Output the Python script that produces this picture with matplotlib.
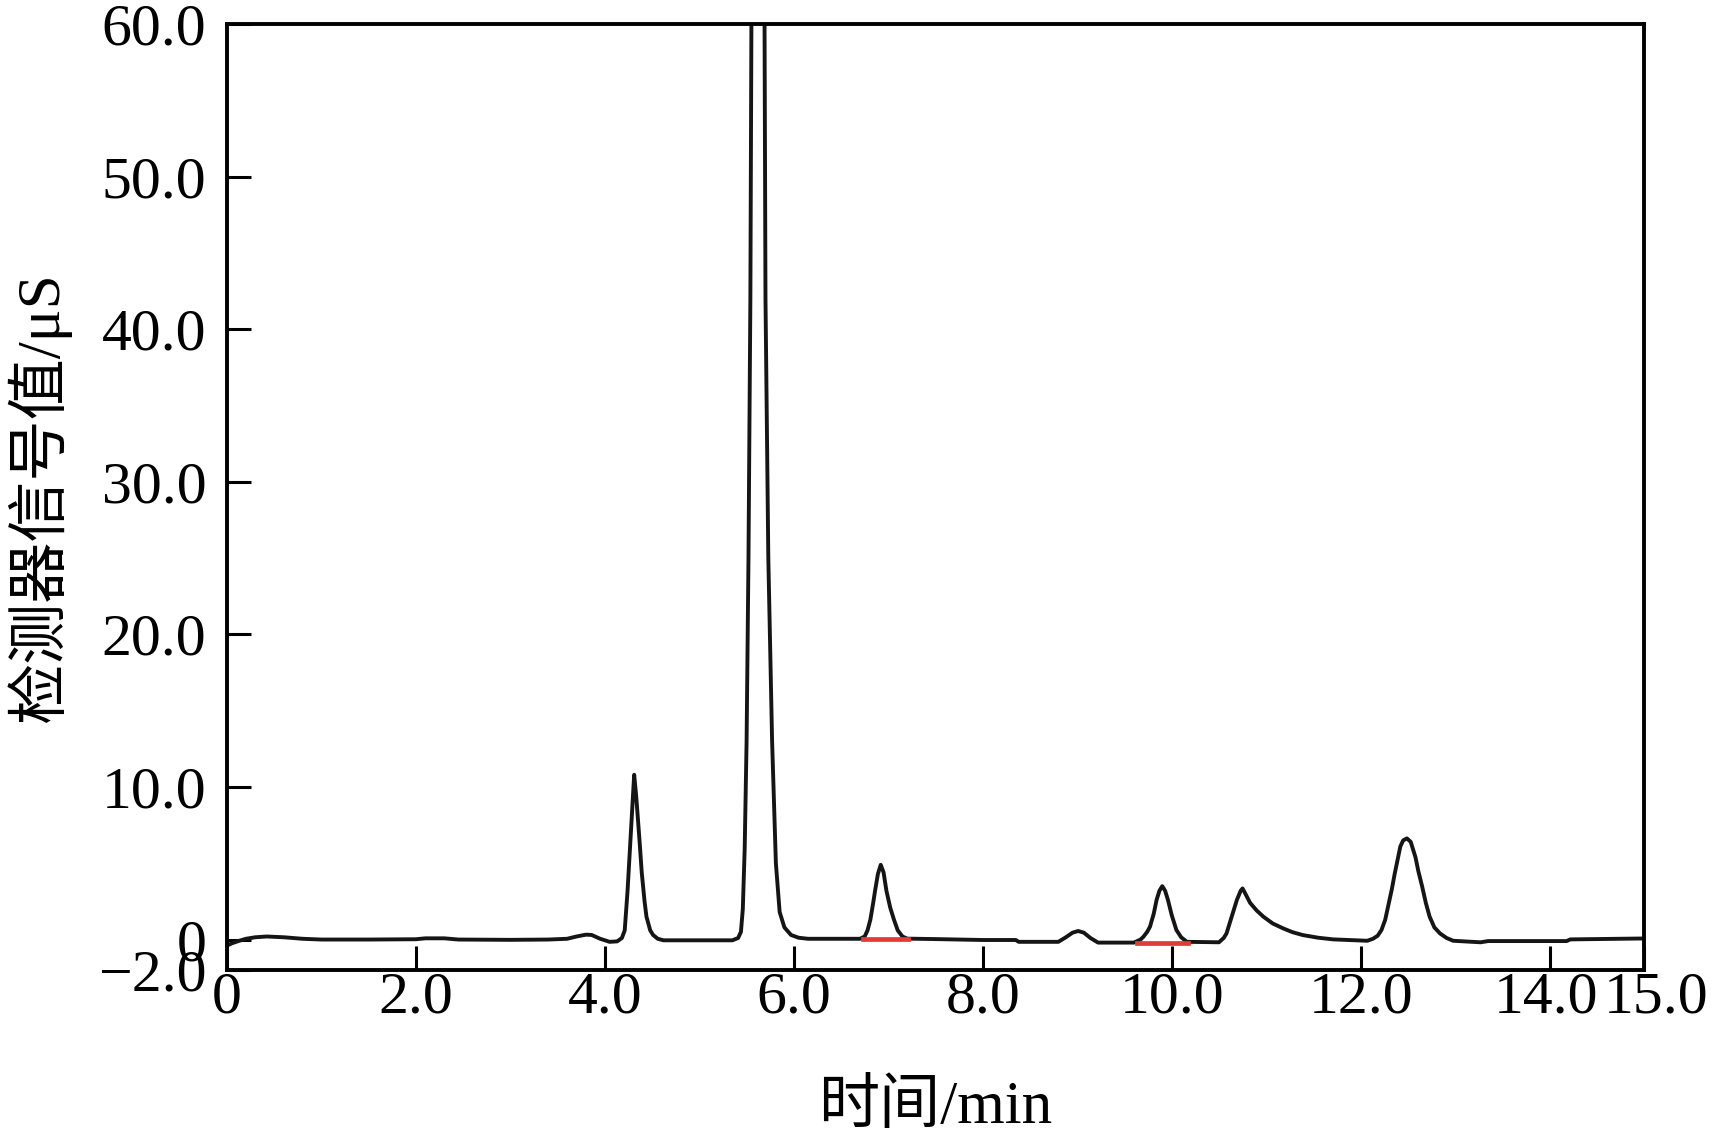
import matplotlib
matplotlib.use('Agg')
import matplotlib.pyplot as plt
from matplotlib.transforms import ScaledTranslation

plt.rcParams['font.family'] = ['Liberation Serif', 'Noto Sans CJK SC']
plt.rcParams['axes.unicode_minus'] = True

# 色谱图曲线（从图中读取的点）
time_min = [0.00, 0.05, 0.12, 0.20, 0.30, 0.42, 0.60, 0.80, 1.00, 1.50,
            2.00, 2.10, 2.30, 2.45, 3.00, 3.40, 3.60, 3.70, 3.80, 3.86,
            3.95, 4.05, 4.13, 4.18, 4.21, 4.24, 4.27, 4.29, 4.31, 4.33,
            4.34, 4.37, 4.39, 4.42, 4.44, 4.48, 4.51, 4.56, 4.62, 5.00,
            5.35, 5.41, 5.44, 5.46, 5.48, 5.50, 5.52, 5.54, 5.55, 5.58,
            5.62, 5.66, 5.69, 5.70, 5.73, 5.77, 5.81, 5.85, 5.90, 5.97,
            6.05, 6.15, 6.70, 6.75, 6.78, 6.81, 6.84, 6.86, 6.89, 6.92,
            6.95, 6.98, 7.02, 7.06, 7.10, 7.15, 7.20, 7.50, 8.00, 8.35,
            8.38, 8.80, 8.88, 8.95, 9.01, 9.07, 9.14, 9.22, 9.60, 9.67,
            9.70, 9.74, 9.77, 9.81, 9.84, 9.87, 9.90, 9.93, 9.96, 10.00,
            10.05, 10.10, 10.16, 10.50, 10.55, 10.58, 10.63, 10.69, 10.73, 10.75,
            10.78, 10.83, 10.90, 10.97, 11.07, 11.18, 11.28, 11.39, 11.55, 11.71,
            12.07, 12.13, 12.18, 12.22, 12.26, 12.29, 12.33, 12.36, 12.42, 12.45,
            12.49, 12.53, 12.58, 12.61, 12.65, 12.69, 12.73, 12.78, 12.84, 12.91,
            12.98, 13.27, 13.35, 14.18, 14.22, 14.80, 15.00]
signal_us = [-0.40, -0.25, -0.10, 0.05, 0.15, 0.20, 0.15, 0.05, 0.00, 0.00,
             0.02, 0.08, 0.08, 0.00, -0.02, 0.00, 0.05, 0.20, 0.32, 0.30,
             0.05, -0.15, -0.12, 0.10, 0.60, 3.2, 6.5, 8.7, 10.8, 9.5,
             8.7, 6.2, 4.4, 2.5, 1.5, 0.6, 0.3, 0.05, -0.05, -0.05,
             -0.05, 0.10, 0.50, 2.0, 6.0, 13.0, 25.0, 42.0, 60.0, 85.0,
             95.0, 85.0, 60.0, 42.0, 25.0, 13.0, 5.0, 1.8, 0.8, 0.3,
             0.12, 0.05, 0.05, 0.20, 0.6, 1.3, 2.4, 3.2, 4.3, 4.9,
             4.4, 3.2, 2.1, 1.3, 0.6, 0.2, 0.06, 0.03, -0.03, -0.03,
             -0.15, -0.15, 0.15, 0.45, 0.56, 0.45, 0.10, -0.20, -0.20, 0.0,
             0.18, 0.50, 0.84, 1.7, 2.6, 3.2, 3.5, 3.2, 2.6, 1.6,
             0.62, 0.15, -0.15, -0.18, 0.10, 0.40, 1.4, 2.6, 3.2, 3.35,
             3.0, 2.4, 1.9, 1.5, 1.05, 0.73, 0.48, 0.29, 0.12, 0.01,
             -0.08, 0.05, 0.25, 0.62, 1.3, 2.15, 3.3, 4.3, 6.1, 6.5,
             6.63, 6.4, 5.4, 4.5, 3.5, 2.4, 1.5, 0.8, 0.4, 0.1,
             -0.08, -0.18, -0.10, -0.10, 0.01, 0.05, 0.07]

# 红色积分基线
red_start = [6.73, 9.63]
red_end = [7.21, 10.17]
red_level = [0.02, -0.20]

xticks = [0, 2, 4, 6, 8, 10, 12, 14, 15]
xtick_labels = ['0', '2.0', '4.0', '6.0', '8.0', '10.0', '12.0', '14.0', '15.0']
yticks = [-2, 0, 10, 20, 30, 40, 50, 60]
ytick_labels = ['\u22122.0', '0', '10.0', '20.0', '30.0', '40.0', '50.0', '60.0']

fig = plt.figure(figsize=(17.21, 11.48), dpi=100)
ax = fig.add_axes([0.1319, 0.155, 0.8234, 0.824])

ax.plot(time_min, signal_us, color='#151515', lw=2.8,
        solid_joinstyle='round', solid_capstyle='round')
for a, b, lv in zip(red_start, red_end, red_level):
    ax.plot([a, b], [lv, lv], color='#e03a3a', lw=3.4)

ax.set_xlim(0, 15)
ax.set_ylim(-2, 60)
ax.set_xticks(xticks)
ax.set_xticklabels(xtick_labels)
ax.set_yticks(yticks)
ax.set_yticklabels(ytick_labels)
ax.tick_params(axis='both', direction='in', length=17, width=2.2,
               labelsize=43, colors='black')
ax.tick_params(axis='x', pad=1)
ax.tick_params(axis='y', pad=15)
for s in ax.spines.values():
    s.set_linewidth(2.8)
    s.set_color('black')

# 14.0 和 15.0 挨得很近，稍微错开
labs = ax.get_xticklabels()
labs[-2].set_transform(labs[-2].get_transform() + ScaledTranslation(-4 / 100, 0, fig.dpi_scale_trans))
labs[-1].set_transform(labs[-1].get_transform() + ScaledTranslation(12 / 100, 0, fig.dpi_scale_trans))

ax.set_xlabel('时间/min', fontsize=44)
ax.set_ylabel('检测器信号值/μS', fontsize=44)
ax.xaxis.set_label_coords(0.5, -0.146)
ax.xaxis.label.set_va('center')
ax.yaxis.set_label_coords(-0.133, 0.5)
ax.yaxis.label.set_va('center')

fig.savefig('out.png', dpi=100)
